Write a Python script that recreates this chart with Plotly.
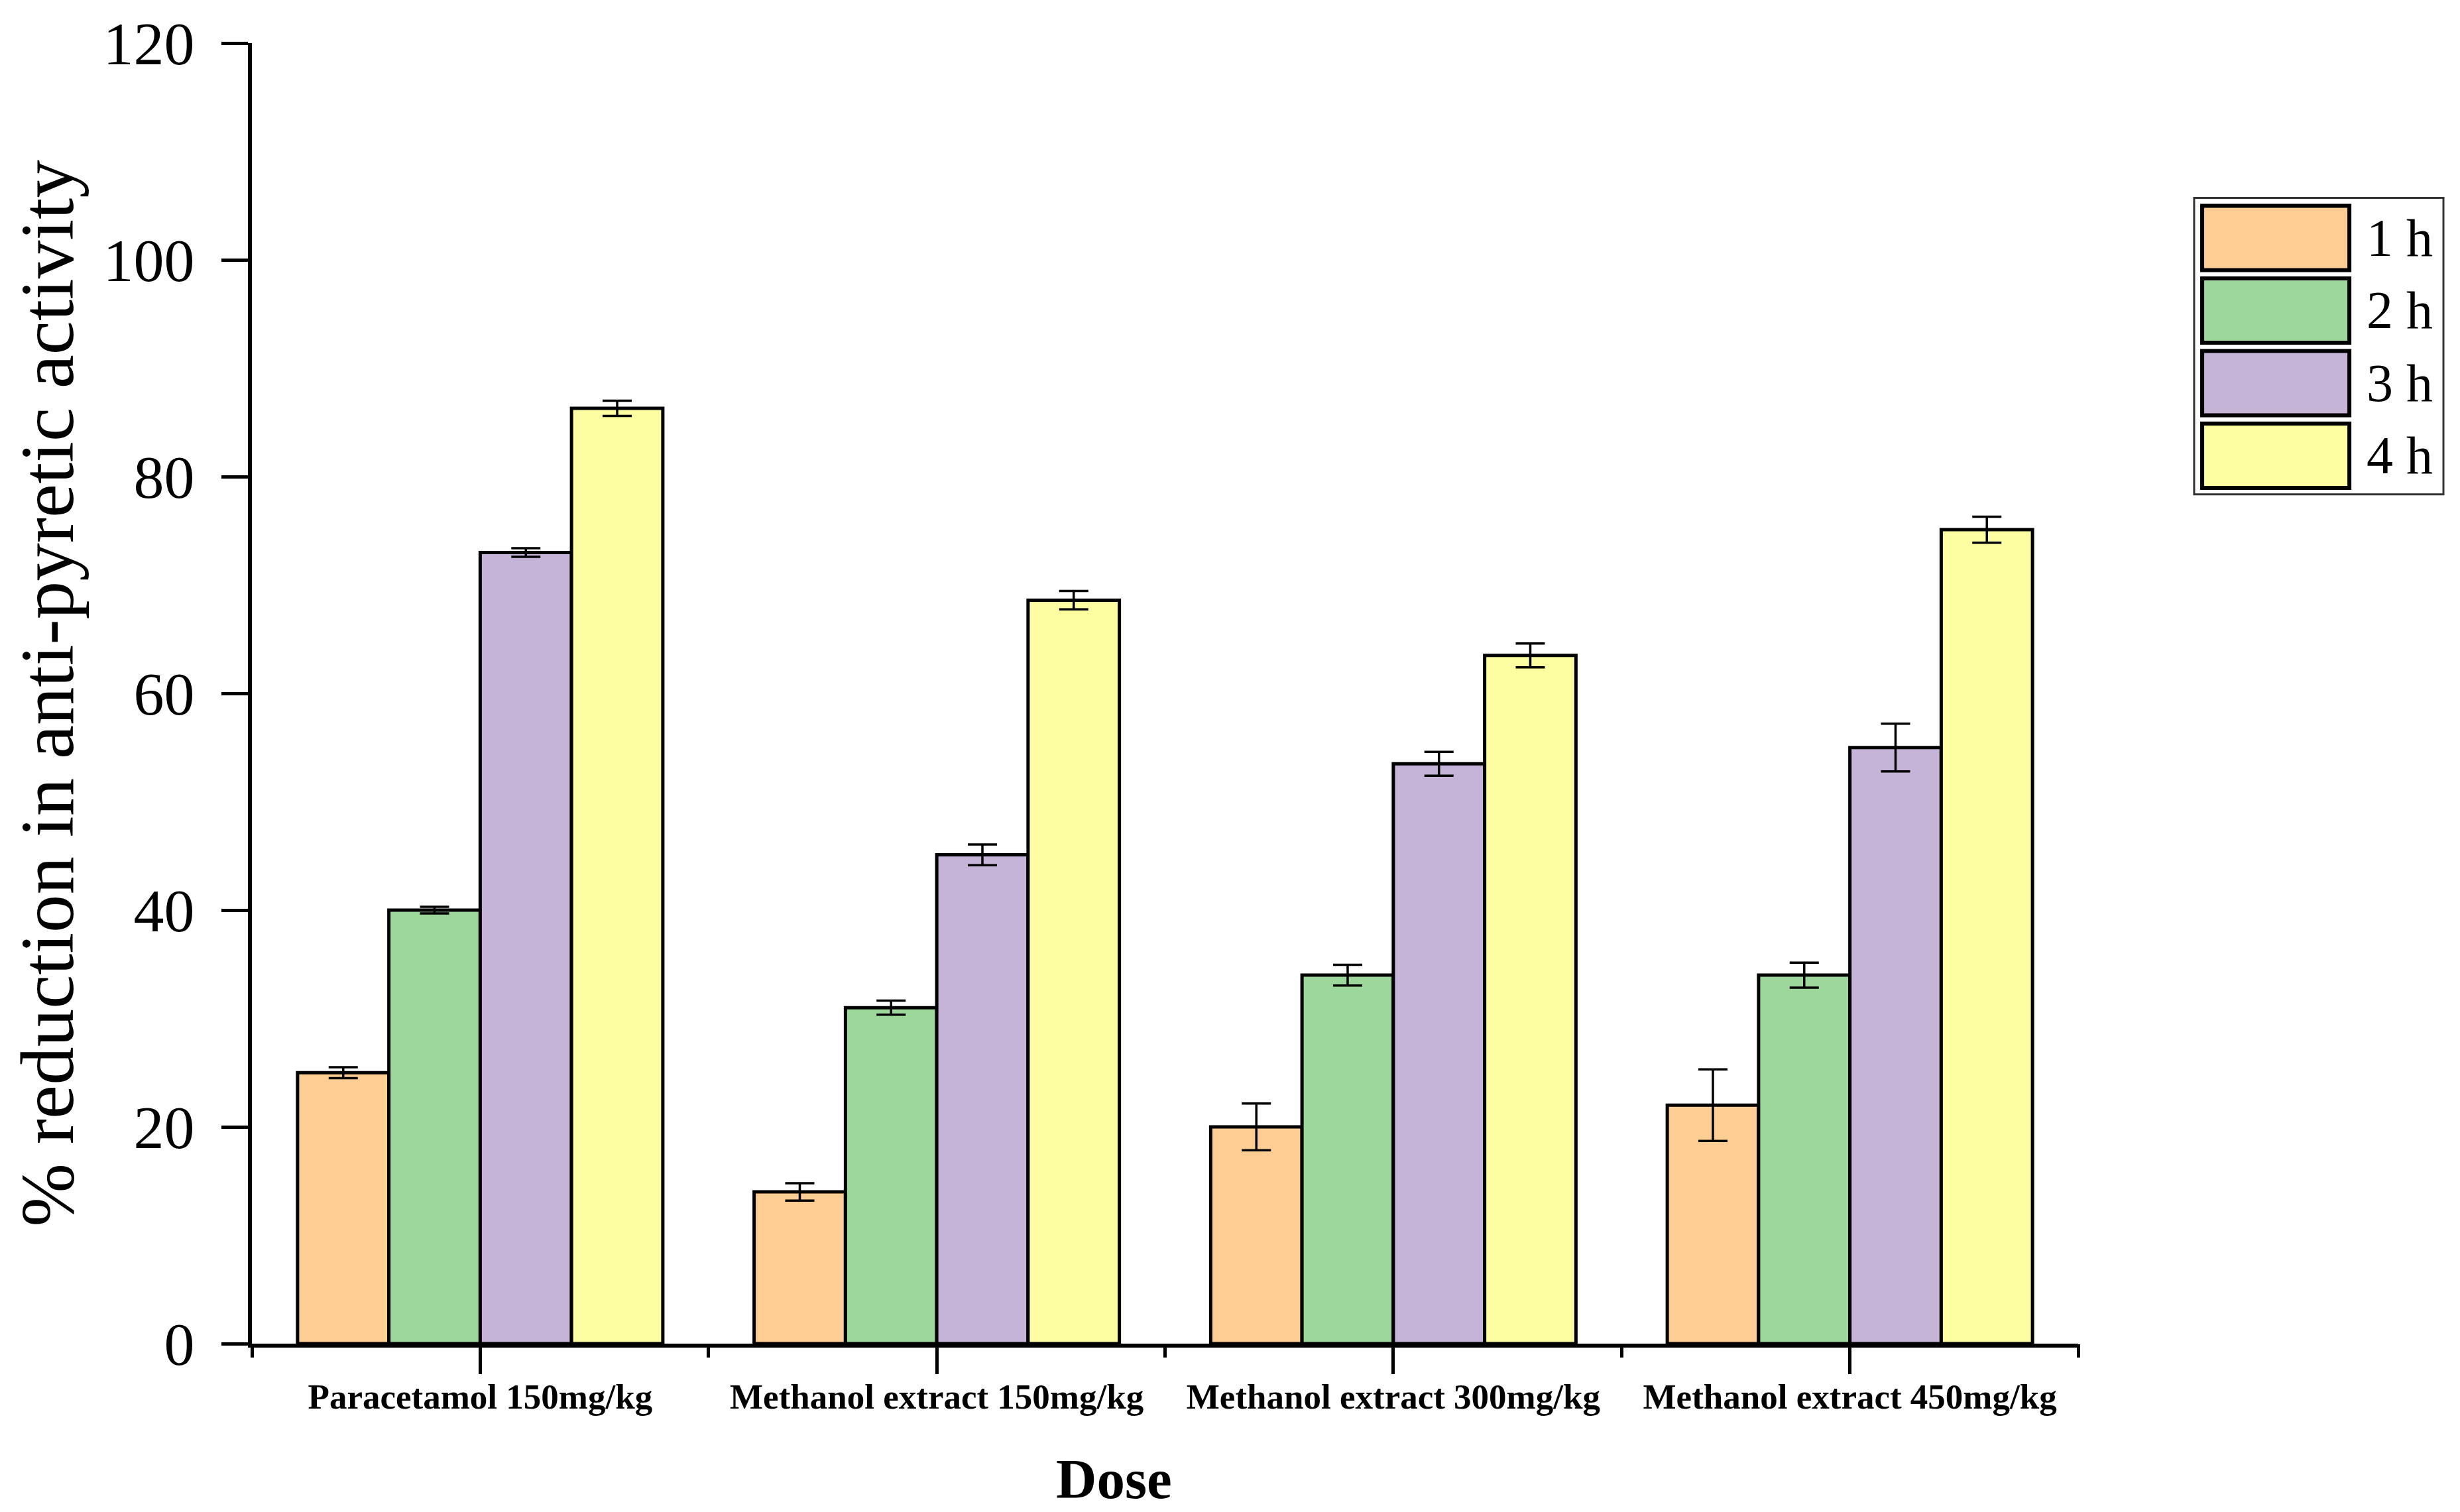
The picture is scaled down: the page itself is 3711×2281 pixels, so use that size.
import plotly.graph_objects as go

categories = ["Paracetamol 150mg/kg", "Methanol extract 150mg/kg",
              "Methanol extract 300mg/kg", "Methanol extract 450mg/kg"]
series_names = ["1 h", "2 h", "3 h", "4 h"]
h1 = [25.0, 14.0, 20.0, 22.0]
h1_err = [0.5, 0.8, 2.15, 3.3]
h2 = [40.0, 31.0, 34.0, 34.0]
h2_err = [0.3, 0.65, 0.95, 1.15]
h3 = [73.0, 45.1, 53.5, 55.0]
h3_err = [0.4, 0.95, 1.1, 2.2]
h4 = [86.3, 68.6, 63.5, 75.1]
h4_err = [0.7, 0.85, 1.1, 1.2]
y_ticks = [0, 20, 40, 60, 80, 100, 120]

colors = ["#FECD94", "#9DD79B", "#C5B4D7", "#FDFDA2"]
values = [h1, h2, h3, h4]
errors = [h1_err, h2_err, h3_err, h4_err]

W, H = 3711, 2281
ML, MR, MT, MB = 372, 584, 57, 262
SERIF = "Liberation Serif"

xpos = list(range(len(categories)))
fig = go.Figure()
for name, vals, errs, col in zip(series_names, values, errors, colors):
    fig.add_trace(go.Bar(
        x=xpos, y=vals, name=name,
        marker=dict(color=col, line=dict(color="black", width=5)),
        error_y=dict(type="data", array=errs, visible=True, color="black",
                     thickness=3.5, width=22),
        showlegend=False,
    ))

fig.update_layout(
    width=W, height=H,
    margin=dict(l=ML, r=MR, t=MT, b=MB, autoexpand=False),
    paper_bgcolor="white", plot_bgcolor="white",
    barmode="group", bargap=0.2, bargroupgap=0,
    font=dict(family=SERIF, color="black"),
)

fig.update_yaxes(
    range=[0, 120], tickvals=y_ticks, ticktext=[str(v) for v in y_ticks],
    showline=True, linecolor="black", linewidth=6,
    ticks="outside", ticklen=40, tickwidth=5, tickcolor="black",
    showgrid=False, zeroline=False,
    tickfont=dict(family=SERIF, size=92, color="black"),
    ticklabelstandoff=22, ticklabeloverflow="allow",
    title=dict(text="% reduction in anti-pyretic activity",
               font=dict(family=SERIF, size=115, color="black"), standoff=28),
)

xrange = [-0.5, len(categories) - 0.5]
fig.update_xaxes(
    range=xrange,
    tickvals=xpos, ticktext=["<b>%s</b>" % c for c in categories],
    showline=True, linecolor="black", linewidth=6,
    ticks="outside", ticklen=40, tickwidth=5, tickcolor="black",
    showgrid=False, zeroline=False,
    tickfont=dict(family=SERIF, size=53, color="black"),
    ticklabelstandoff=-12, ticklabeloverflow="allow",
)

# short boundary ticks between the groups on an overlaid axis
minor_vals = [i - 0.5 for i in range(len(categories) + 1)]
fig.update_layout(xaxis2=dict(
    overlaying="x", anchor="y", side="bottom", range=xrange,
    tickmode="array", tickvals=minor_vals, ticktext=["" for _ in minor_vals],
    ticks="outside", ticklen=20, tickwidth=5, tickcolor="black",
    showline=False, showgrid=False, zeroline=False, showticklabels=False,
))
fig.add_trace(go.Scatter(x=[xrange[0]], y=[0], xaxis="x2", yaxis="y",
                         mode="markers", marker=dict(opacity=0),
                         showlegend=False, hoverinfo="skip"))

fig.add_annotation(text="<b>Dose</b>", xref="paper", yref="paper",
                   x=0.472, y=-0.1040, showarrow=False,
                   xanchor="center", yanchor="middle",
                   font=dict(family=SERIF, size=85, color="black"))

# custom legend (large swatches as in the reference)
lx0, lx1 = 1.0635, 1.2000
ly0, ly1 = 0.6530, 0.8810
fig.add_shape(type="rect", xref="paper", yref="paper",
              x0=lx0, x1=lx1, y0=ly0, y1=ly1,
              line=dict(color="#333333", width=3), fillcolor="white")
sw_x0, sw_x1 = 1.0679, 1.1485
row_top = 0.8749
row_pitch = 0.0558
sw_h = 0.0495
for i, (name, col) in enumerate(zip(series_names, colors)):
    top = row_top - i * row_pitch
    fig.add_shape(type="rect", xref="paper", yref="paper",
                  x0=sw_x0, x1=sw_x1, y0=top - sw_h, y1=top,
                  line=dict(color="black", width=6), fillcolor=col)
    fig.add_annotation(text=name, xref="paper", yref="paper",
                       x=1.157, y=top - sw_h / 2, showarrow=False,
                       xanchor="left", yanchor="middle",
                       font=dict(family=SERIF, size=80, color="black"))

fig.write_html("out.html")
